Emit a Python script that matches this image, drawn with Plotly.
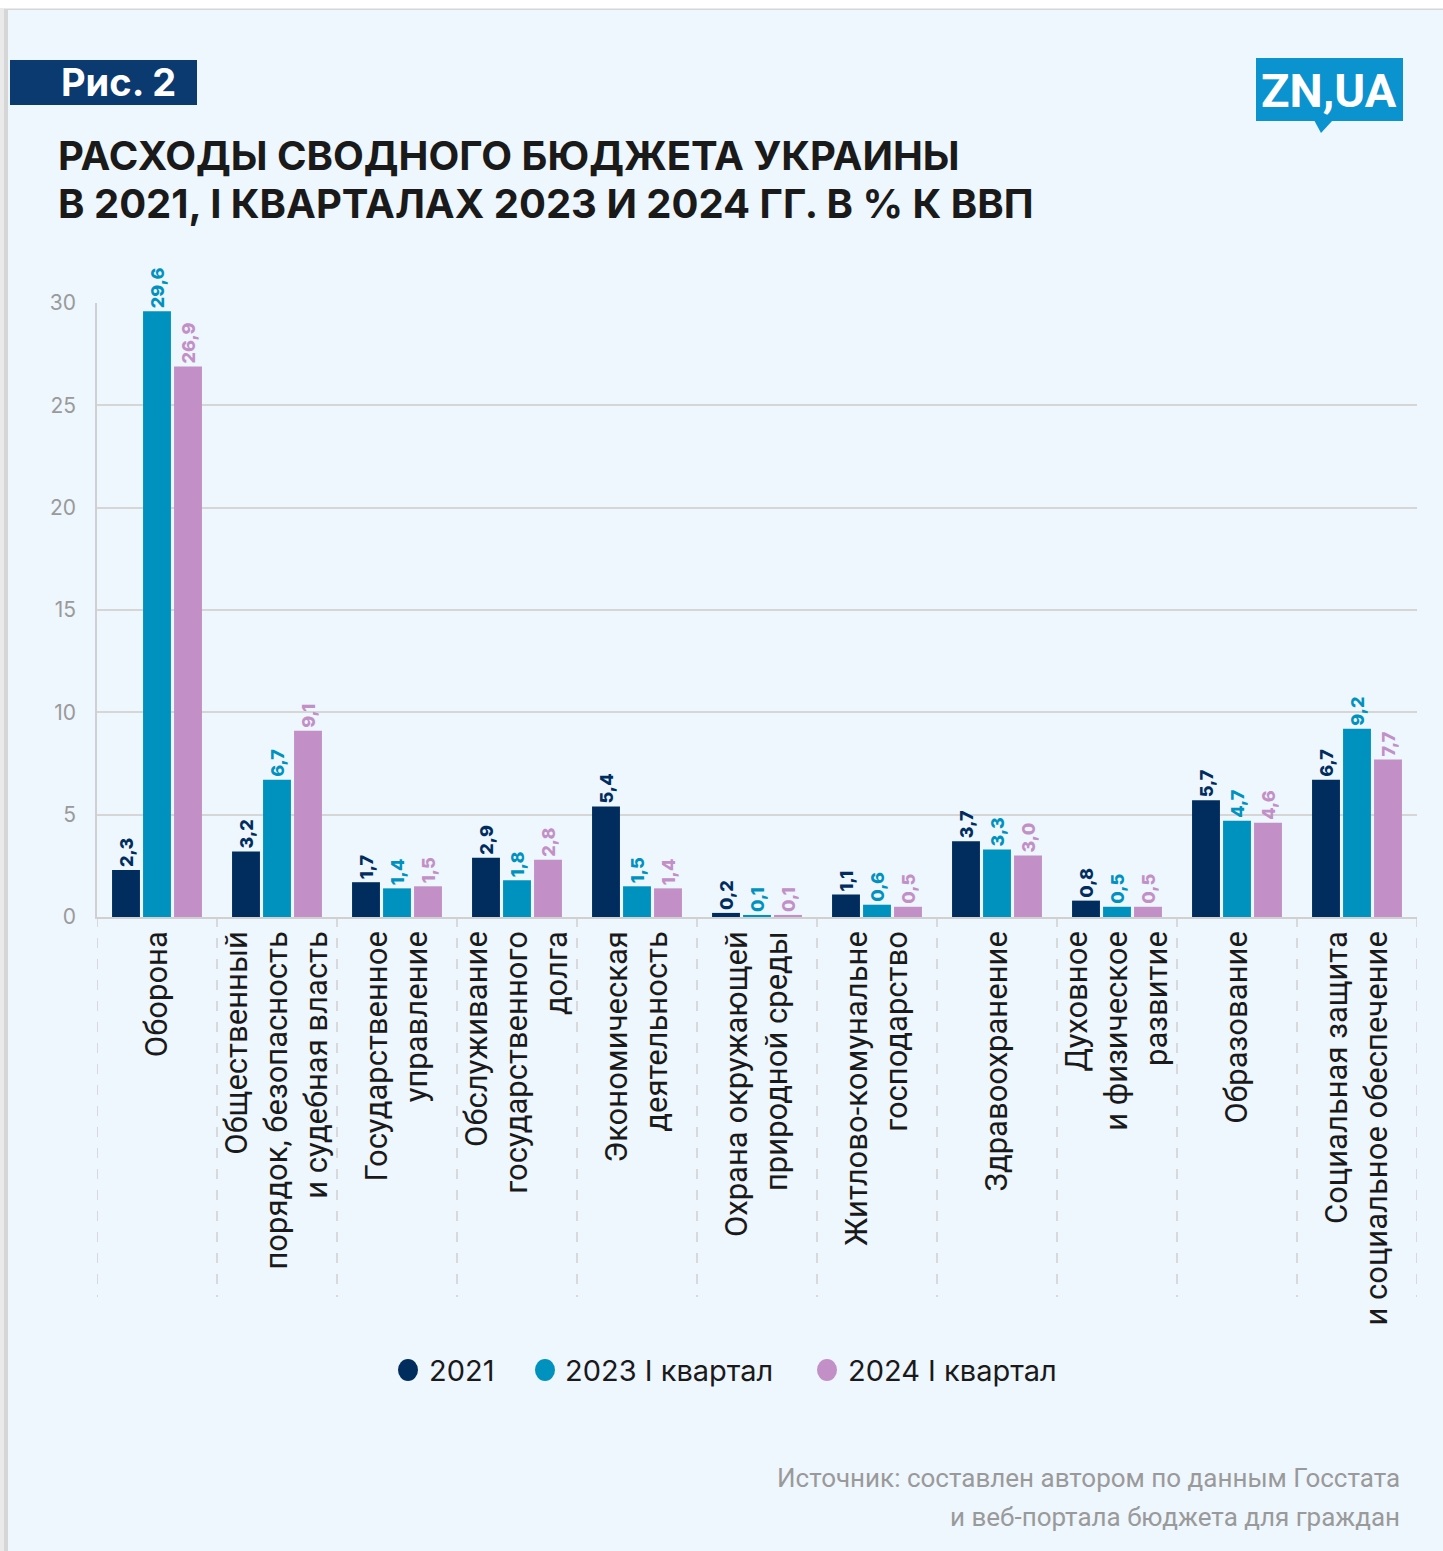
import plotly.graph_objects as go

# ---- data -------------------------------------------------------------
categories = [
    "Оборона",
    "Общественный<br>порядок, безопасность<br>и судебная власть",
    "Государственное<br>управление",
    "Обслуживание<br>государственного<br>долга",
    "Экономическая<br>деятельность",
    "Охрана окружающей<br>природной среды",
    "Житлово-комунальне<br>господарство",
    "Здравоохранение",
    "Духовное<br>и физическое<br>развитие",
    "Образование",
    "Социальная защита<br>и социальное обеспечение",
]
series_names = ["2021", "2023 I квартал", "2024 I квартал"]
values_2021 = [2.3, 3.2, 1.7, 2.9, 5.4, 0.2, 1.1, 3.7, 0.8, 5.7, 6.7]
values_2023_q1 = [29.6, 6.7, 1.4, 1.8, 1.5, 0.1, 0.6, 3.3, 0.5, 4.7, 9.2]
values_2024_q1 = [26.9, 9.1, 1.5, 2.8, 1.4, 0.1, 0.5, 3.0, 0.5, 4.6, 7.7]
y_ticks = [0, 5, 10, 15, 20, 25, 30]

series_values = [values_2021, values_2023_q1, values_2024_q1]
colors = ["#002D5E", "#0092BF", "#C290C6"]

# ---- page geometry (pixels) --------------------------------------------
W, H = 1443, 1551
L, R, T, B = 97, 1417, 303, 917  # plot-area box


def px(x):
    return (x - L) / (R - L)


def py(y):
    return (B - y) / (B - T)


def fmt(v):
    # comma decimal, plus a non-breaking space to lift the label off the bar
    return f"{v:.1f}".replace(".", ",") + "\u00a0"


fig = go.Figure()

for name, vals, col in zip(series_names, series_values, colors):
    fig.add_trace(go.Bar(
        x=categories,
        y=vals,
        name=name,
        marker=dict(color=col, line=dict(width=0)),
        text=[fmt(v) for v in vals],
        textposition="outside",
        textangle=-90,
        constraintext="none",
        cliponaxis=False,
        textfont=dict(family="Inter", size=18, color=col, weight=800),
        showlegend=False,
        hoverinfo="skip",
    ))

shapes = []
# card background and its soft edge
shapes.append(dict(type="rect", xref="paper", yref="paper",
                   x0=px(0), x1=px(W), y0=py(0), y1=py(H),
                   fillcolor="#FFFFFF", line=dict(width=0), layer="below"))
shapes.append(dict(type="rect", xref="paper", yref="paper",
                   x0=px(0), x1=px(W), y0=py(8), y1=py(H),
                   fillcolor="#EAEAEA", line=dict(width=0), layer="below"))
shapes.append(dict(type="rect", xref="paper", yref="paper",
                   x0=px(4), x1=px(W), y0=py(9), y1=py(H),
                   fillcolor="#D6D6D6", line=dict(width=0), layer="below"))
shapes.append(dict(type="rect", xref="paper", yref="paper",
                   x0=px(8), x1=px(W), y0=py(10), y1=py(H),
                   fillcolor="#EEF6FE", line=dict(width=0), layer="below"))
# figure number badge
shapes.append(dict(type="rect", xref="paper", yref="paper",
                   x0=px(10), x1=px(197), y0=py(60), y1=py(105),
                   fillcolor="#0B3A70", line=dict(width=0)))
# logo box with speech-bubble tail
shapes.append(dict(type="rect", xref="paper", yref="paper",
                   x0=px(1256), x1=px(1403), y0=py(58), y1=py(121),
                   fillcolor="#0A93CF", line=dict(width=0)))
shapes.append(dict(type="path", xref="paper", yref="paper",
                   path=(f"M {px(1314)} {py(120)} L {px(1333)} {py(120)} "
                         f"L {px(1321)} {py(133)} Z"),
                   fillcolor="#0A93CF", line=dict(width=0)))
# dashed separators between categories
for i in range(len(categories) + 1):
    shapes.append(dict(type="line", xref="x", yref="paper",
                       x0=i - 0.5, x1=i - 0.5, y0=0, y1=py(1297),
                       line=dict(color="#CFCFCF", width=1.5, dash="10px,11px")))

# legend: round swatches with labels
legend_circle_x = [408, 545, 827]
legend_text_x = [427, 563, 846]
legend_y = 1370
for cx, col in zip(legend_circle_x, colors):
    shapes.append(dict(type="circle", xref="paper", yref="paper",
                       x0=px(cx - 10), x1=px(cx + 10),
                       y0=py(legend_y - 11), y1=py(legend_y + 11),
                       fillcolor=col, line=dict(width=0)))

annotations = [
    dict(text="<b>Рис. 2</b>", xref="paper", yref="paper",
         x=px(118), y=py(82), xanchor="center", yanchor="middle",
         showarrow=False, font=dict(family="Inter", size=38, color="#FFFFFF", weight=800)),
    dict(text="<b>ZN,UA</b>", xref="paper", yref="paper",
         x=px(1329), y=py(90), xanchor="center", yanchor="middle",
         showarrow=False,
         font=dict(family="Liberation Sans Narrow, Roboto", size=47, color="#FFFFFF")),
    dict(text="<b>РАСХОДЫ СВОДНОГО БЮДЖЕТА УКРАИНЫ</b>", xref="paper", yref="paper",
         x=px(56), y=py(156), xanchor="left", yanchor="middle", showarrow=False,
         font=dict(family="Inter", size=40, color="#1A1A1A", weight=900)),
    dict(text="<b>В 2021, I КВАРТАЛАХ 2023 И 2024 ГГ. В % К ВВП</b>", xref="paper", yref="paper",
         x=px(56), y=py(204), xanchor="left", yanchor="middle", showarrow=False,
         font=dict(family="Inter", size=40, color="#1A1A1A", weight=900)),
    dict(text="Источник: составлен автором по данным Госстата", xref="paper", yref="paper",
         x=px(1402), y=py(1478), xanchor="right", yanchor="middle", showarrow=False,
         font=dict(family="Roboto", size=26, color="#9A9A9A")),
    dict(text="и веб-портала бюджета для граждан", xref="paper", yref="paper",
         x=px(1402), y=py(1517), xanchor="right", yanchor="middle", showarrow=False,
         font=dict(family="Roboto", size=26, color="#9A9A9A")),
]
for tx, name in zip(legend_text_x, series_names):
    annotations.append(dict(text=name, xref="paper", yref="paper",
                            x=px(tx), y=py(legend_y), xanchor="left", yanchor="middle",
                            showarrow=False,
                            font=dict(family="Inter", size=29, color="#1A1A1A")))

fig.update_layout(
    width=W, height=H,
    margin=dict(l=L, r=W - R, t=T, b=H - B, pad=0),
    paper_bgcolor="#EEF6FE",
    plot_bgcolor="rgba(0,0,0,0)",
    barmode="group",
    bargap=0.225,
    bargroupgap=0.1,
    shapes=shapes,
    annotations=annotations,
    showlegend=False,
    xaxis=dict(
        type="category",
        tickangle=-90,
        tickfont=dict(family="Roboto", size=31, color="#1A1A1A"),
        showgrid=False,
        showline=True, linecolor="#D0D0D0", linewidth=1.5,
        ticks="", ticklabelstandoff=0,
        range=[-0.5, len(categories) - 0.5],
        fixedrange=True,
    ),
    yaxis=dict(
        range=[0, 30],
        tickvals=y_ticks,
        tickfont=dict(family="Inter", size=21, color="#9A9A9A"),
        showgrid=True, gridcolor="#D6D6D6", gridwidth=1.5,
        showline=True, linecolor="#D0D0D0", linewidth=1.5,
        zeroline=False,
        ticks="", ticklabelstandoff=15,
        fixedrange=True,
    ),
)

fig.write_html("out.html")
